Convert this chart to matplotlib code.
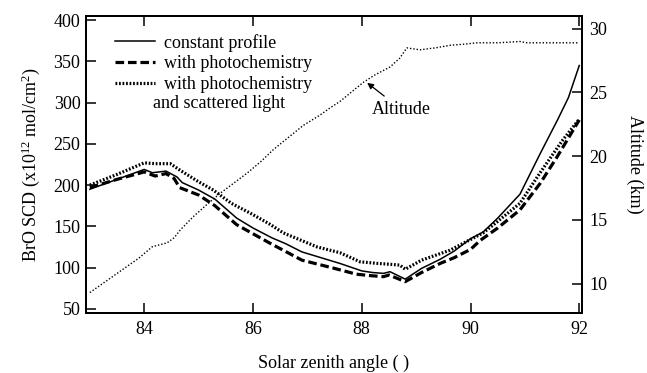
import matplotlib
matplotlib.use("Agg")
import matplotlib.pyplot as plt

plt.rcParams["font.family"] = ["Liberation Serif", "DejaVu Serif"]
plt.rcParams["mathtext.fontset"] = "custom"
plt.rcParams["mathtext.rm"] = "Liberation Serif"
plt.rcParams["mathtext.default"] = "regular"
plt.rcParams["font.size"] = 13

# BrO slant column densities (x10^12 mol/cm^2) vs solar zenith angle
sza_const = [83.0, 83.5, 84.0, 84.15, 84.4, 84.6, 84.7, 85.0, 85.3, 85.7, 86.0,
             86.35, 86.6, 86.9, 87.2, 87.6, 88.0, 88.2, 88.4, 88.52, 88.8,
             89.1, 89.44, 89.7, 90.0, 90.23, 90.5, 90.91, 91.28, 91.6, 91.8, 92.0]
bro_const = [195, 207, 219, 215, 217, 210, 203, 194, 183, 160, 148,
             136, 129, 119, 113, 105, 96, 94, 93, 95, 86,
             99, 110, 120, 135, 143, 160, 189, 238, 279, 306, 345]

sza_photo = [83.0, 83.5, 84.0, 84.2, 84.4, 84.55, 84.65, 85.0, 85.3, 85.7, 86.0,
             86.3, 86.9, 87.5, 87.9, 88.2, 88.4, 88.5, 88.8, 89.1, 89.44,
             89.7, 90.0, 90.18, 90.5, 90.91, 91.28, 91.59, 92.0]
bro_photo = [197, 207, 216, 211, 214, 208, 197, 188, 175, 152, 141,
             130, 109, 99, 92, 90, 89, 91, 83, 94, 105,
             112, 122, 133, 148, 170, 202, 234, 279]

sza_scat = [83.0, 83.5, 84.0, 84.2, 84.48, 84.66, 85.0, 85.27, 85.6, 85.95, 86.3,
            86.56, 87.18, 87.6, 87.97, 88.3, 88.52, 88.7, 88.8, 89.1, 89.62,
            90.0, 90.23, 90.5, 90.91, 91.28, 91.7, 92.0]
bro_scat = [200, 213, 227, 226, 226, 218, 204, 194, 178, 166, 153,
            142, 125, 118, 107, 105, 104, 103, 98, 109, 121,
            134, 142, 156, 178, 215, 255, 280]

# Balloon altitude (km)
sza_alt = [83.0, 83.3, 83.6, 83.9, 84.15, 84.42, 84.55, 84.66, 84.9, 85.15,
           85.4, 85.65, 85.9, 86.15, 86.37, 86.6, 86.92, 87.24, 87.42, 87.6,
           87.8, 88.03, 88.25, 88.52, 88.7, 88.83, 89.07, 89.35, 89.62, 89.9,
           90.12, 90.5, 90.91, 91.04, 91.5, 92.0]
altitude = [9.3, 10.2, 11.1, 12.0, 12.9, 13.2, 13.6, 14.2, 15.25, 16.2,
            17.1, 17.9, 18.7, 19.6, 20.5, 21.3, 22.4, 23.25, 23.8, 24.3,
            25.0, 25.8, 26.4, 27.0, 27.7, 28.5, 28.35, 28.5, 28.7, 28.8,
            28.9, 28.9, 29.0, 28.9, 28.9, 28.9]

xticks = [84, 86, 88, 90, 92]
yticks = [50, 100, 150, 200, 250, 300, 350, 400]
alt_ticks = [10, 15, 20, 25, 30]

fig = plt.figure(figsize=(6.47, 3.73), dpi=100)
ax = fig.add_axes([0.133, 0.161, 0.7665, 0.796])
ax2 = ax.twinx()

ax.plot(sza_const, bro_const, color="black", lw=1.1, label="constant profile")
ax.plot(sza_photo, bro_photo, color="black", lw=2.3, linestyle=(0, (2.7, 1.2)),
        label="with photochemistry")
ax.plot(sza_scat, bro_scat, color="black", lw=2.3, linestyle=(0, (0.55, 0.55)),
        label="with photochemistry")
ax2.plot(sza_alt, altitude, color="black", lw=1.0, linestyle=(0, (1, 1.4)))

ax.set_xlim(82.93, 92.05)
ax.set_ylim(45, 405)
ax2.set_ylim(7.7, 31.0)
ax.set_xticks(xticks)
ax.set_yticks(yticks)
ax2.set_yticks(alt_ticks)

for a in (ax, ax2):
    for s in a.spines.values():
        s.set_linewidth(1.4)
ax.tick_params(axis="x", which="both", direction="in", top=True, length=7,
               width=1.1, pad=6, labelsize=13)
ax.tick_params(axis="y", direction="in", length=7, width=1.1, pad=4, labelsize=13)
ax2.tick_params(axis="y", direction="in", length=7, width=1.1, pad=5, labelsize=13)

ax.set_xlabel("Solar zenith angle ( )", fontsize=13, labelpad=12)
ax.set_ylabel("BrO SCD (x10$^{12}$ mol/cm$^{2}$)", fontsize=13, labelpad=8)
ax2.set_ylabel("Altitude (km)", fontsize=13, rotation=270, labelpad=26)

leg = ax.legend(loc="upper left", bbox_to_anchor=(0.058, 0.94), frameon=False,
                handlelength=2.2, handletextpad=0.5, labelspacing=0.2,
                borderpad=0, borderaxespad=0, fontsize=13)
ax.text(0.135, 0.705, "and scattered light", transform=ax.transAxes,
        fontsize=13, ha="left", va="center")

ax2.annotate("Altitude", xy=(88.1, 25.76), xytext=(88.72, 23.7),
             ha="center", va="center", fontsize=13,
             arrowprops=dict(arrowstyle="-|>", color="black", lw=0.9,
                             mutation_scale=9, shrinkA=2, shrinkB=0))

fig.savefig("out.png", dpi=100)
